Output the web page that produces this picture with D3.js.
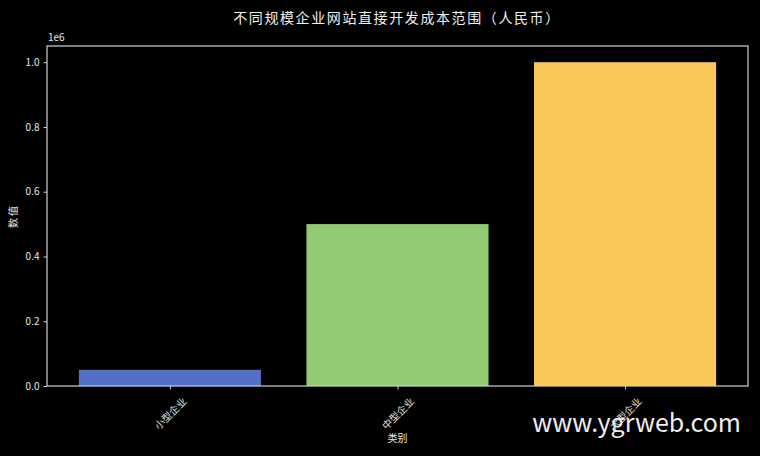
<!DOCTYPE html>
<html><head><meta charset="utf-8">
<script src="https://cdn.jsdelivr.net/npm/d3@7/dist/d3.min.js"></script>
<style>
html,body{margin:0;padding:0;background:#000;}
svg{display:block;}
text{font-family:"Noto Sans CJK SC","DejaVu Sans",sans-serif;}
</style>
</head><body>
<svg id="chart" width="760" height="456"></svg>
<script>
const categories = ["小型企业", "中型企业", "大型企业"];
const values = [50000, 500000, 1000000];
const colors = ["#5470c6", "#91cc75", "#fac858"];
const yTicks = [0, 200000, 400000, 600000, 800000, 1000000];
const title = "不同规模企业网站直接开发成本范围（人民币）";

(function () {
const svg = d3.select("#chart");
const W = 760, H = 456;
svg.append("rect").attr("width", W).attr("height", H).attr("fill", "#000");

const mL = 47, mR = 748, mT = 46, mB = 386;
const x = d3.scaleLinear().domain([-0.54, 2.54]).range([mL, mR]);
const y = d3.scaleLinear().domain([0, 1050000]).range([mB, mT]);
const barW = 0.8;
const fg = "#e6e6e6";

// bars
svg.selectAll("rect.bar").data(values).join("rect")
  .attr("class", "bar")
  .attr("x", (d, i) => x(i - barW / 2))
  .attr("width", (d, i) => x(i + barW / 2) - x(i - barW / 2))
  .attr("y", d => y(d))
  .attr("height", d => y(0) - y(d))
  .attr("fill", (d, i) => colors[i]);

// frame
svg.append("rect").attr("x", mL).attr("y", mT)
  .attr("width", mR - mL).attr("height", mB - mT)
  .attr("fill", "none").attr("stroke", "#cfcfcf").attr("stroke-width", 1.2);

// y axis
const yAxis = d3.axisLeft(y).tickValues(yTicks)
  .tickFormat(d => (d / 1e6).toFixed(1)).tickSize(3.5).tickPadding(4);
const gy = svg.append("g").attr("transform", `translate(${mL},0)`).call(yAxis);
gy.select(".domain").remove();
gy.selectAll("line").attr("stroke", "#cfcfcf");
gy.selectAll("text").attr("fill", fg).attr("font-size", 10).attr("font-family", "'DejaVu Sans',sans-serif");

svg.append("text").attr("x", mL + 1).attr("y", 41)
  .attr("fill", fg).attr("font-size", 10).attr("font-family", "'DejaVu Sans',sans-serif").text("1e6");

// x axis
const xAxis = d3.axisBottom(x).tickValues(d3.range(categories.length))
  .tickFormat("").tickSize(3.5);
const gx = svg.append("g").attr("transform", `translate(0,${mB})`).call(xAxis);
gx.select(".domain").remove();
gx.selectAll("line").attr("stroke", "#cfcfcf");

svg.selectAll("text.xlab").data(categories).join("text")
  .attr("class", "xlab")
  .attr("transform", (d, i) => `translate(${x(i)},${mB + 27}) rotate(-45)`)
  .attr("text-anchor", "middle").attr("dominant-baseline", "central")
  .attr("fill", fg).attr("font-size", 10).text(d => d);

// axis titles
svg.append("text").attr("x", (mL + mR) / 2).attr("y", 442)
  .attr("text-anchor", "middle").attr("fill", fg).attr("font-size", 10).text("类别");
svg.append("text").attr("transform", `translate(17,${(mT + mB) / 2}) rotate(-90)`)
  .attr("text-anchor", "middle").attr("fill", fg).attr("font-size", 10).attr("letter-spacing", 2).text("数值");

// title
svg.append("text").attr("x", 397).attr("y", 23)
  .attr("text-anchor", "middle").attr("fill", "#f0f0f0").attr("font-size", 14)
  .attr("letter-spacing", 1.6).text(title);

// watermark
svg.append("text").attr("x", 741).attr("y", 432)
  .attr("text-anchor", "end").attr("fill", "#eeeeee").attr("font-size", 25)
  .attr("font-family", "'Open Sans',sans-serif").text("www.ygrweb.com");
})();
</script>
</body></html>
